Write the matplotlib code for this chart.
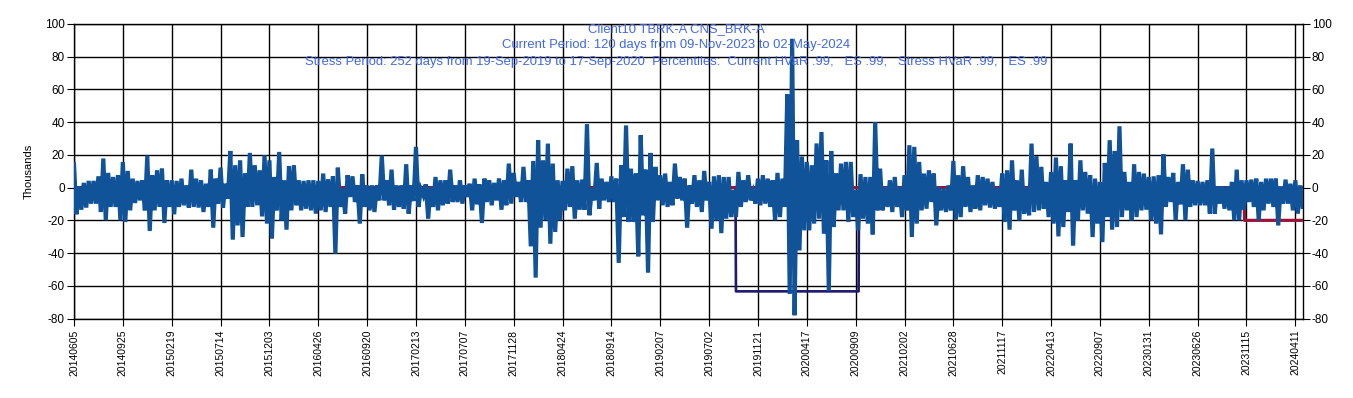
import numpy as np
import matplotlib
matplotlib.use("Agg")
import matplotlib.pyplot as plt

plt.rcParams["font.family"] = ["Liberation Sans", "DejaVu Sans"]
plt.rcParams["axes.unicode_minus"] = False

N_DAYS = 2516
TICK_LABELS = ["20140605", "20140925", "20150219", "20150714", "20151203", "20160426",
               "20160920", "20170213", "20170707", "20171128", "20180424", "20180914",
               "20190207", "20190702", "20191121", "20200417", "20200909", "20210202",
               "20210628", "20211117", "20220413", "20220907", "20230131", "20230626",
               "20231115", "20240411"]

# daily P&L in thousands, high / low of each 10-day slice (one row per tick interval)
PNL_HI = [
    14.3, 0.8, 2.9, 4.1, 4.1, 6.9, 17.8, 9.0, 6.5, 7.6,
    15.7, 10.2, 5.5, 4.1, 4.5, 19.6, 7.6, 10.6, 11.6, 4.5,
    4.5, 4.1, 5.5, 1.4, 11.0, 5.5, 4.5, 2.4, 11.0, 5.5,
    12.2, 2.4, 22.4, 13.7, 16.7, 8.6, 21.2, 13.7, 10.6, 19.8,
    16.7, 6.5, 21.8, 4.5, 13.1, 13.7, 4.5, 4.1, 4.5, 4.5,
    4.1, 8.6, 5.1, 6.9, 12.2, -0.6, 7.6, 6.9, 1.4, 8.2,
    1.4, 1.4, 1.4, 19.6, 4.5, 11.0, 1.4, 1.4, 14.3, 1.4,
    24.9, -1.0, 2.0, 0.4, 6.5, 4.5, 4.5, 11.0, 1.4, 4.5,
    1.4, 2.4, 5.5, 2.0, 5.5, 4.5, 2.9, 5.5, 4.5, 14.7,
    9.0, 3.5, 12.7, 4.5, 16.3, 29.0, 16.7, 26.9, 14.7, 4.5,
    4.1, 11.6, 13.1, 4.5, 4.9, 38.8, -0.6, 15.1, 5.5, 3.5,
    6.9, 5.5, 13.7, 38.0, 11.6, 8.6, 32.0, 11.0, 21.2, 12.7,
    7.6, 8.6, 3.5, 14.7, 6.5, 5.5, 1.4, 7.6, 4.5, 10.2,
    3.5, 6.9, 7.6, 6.5, 6.5, -1.6, 9.6, 4.5, 7.6, -2.7,
    5.5, 7.6, 5.5, 4.5, 9.0, 5.5, 57.0, 91.0, 29.0, 19.0,
    15.7, 13.7, 27.0, 34.0, 16.7, 22.4, 8.6, 14.7, 15.7, 15.7,
    -1.6, 8.2, 6.5, 6.5, 40.0, 11.6, 0.4, 4.5, 6.5, 0.4,
    7.6, 25.9, 24.9, 15.7, 8.6, 10.6, 8.6, 0.4, -0.6, 1.4,
    16.3, 7.6, 13.1, 6.5, 1.4, 7.6, 6.5, 5.5, 3.5, 0.0,
    8.6, 10.6, 16.7, 4.5, 11.0, 0.4, 26.9, 19.2, 12.7, 3.5,
    9.6, 18.4, 13.1, 4.5, 26.9, 4.5, 16.7, 9.6, 7.6, 5.5,
    3.5, 15.1, 29.0, 22.4, 37.5, 9.6, 3.5, 14.3, 9.6, 8.6,
    6.5, 6.9, 7.6, 20.4, 6.5, 9.0, 3.5, 14.3, 11.0, 4.5,
    4.1, 3.5, 4.5, 23.9, 0.8, 0.8, 0.8, 3.5, 11.0, 4.5,
    4.5, 4.9, 5.5, 3.5, 5.5, 5.5, 5.5, 0.4, 4.9, 2.4,
    4.5, 1.4,
]
PNL_LO = [
    -16.3, -13.5, -12.2, -9.8, -9.8, -14.9, -20.0, -11.8, -11.8, -20.0,
    -21.0, -13.9, -9.4, -7.8, -13.9, -26.5, -13.9, -11.8, -21.6, -11.8,
    -16.3, -11.8, -10.8, -12.2, -11.8, -12.2, -14.9, -11.8, -24.5, -9.8,
    -12.2, -6.7, -31.8, -23.1, -30.2, -11.8, -11.8, -10.8, -17.6, -22.0,
    -31.2, -13.9, -20.0, -25.7, -13.9, -10.8, -13.9, -12.9, -13.9, -15.9,
    -13.9, -14.9, -11.8, -40.4, -11.8, -15.9, -5.7, -8.8, -22.0, -11.8,
    -13.9, -14.9, -7.8, -7.8, -10.8, -13.5, -11.8, -12.9, -15.9, -8.2,
    -11.8, -4.7, -19.0, -11.8, -13.9, -10.8, -9.8, -8.8, -8.8, -9.8,
    -5.7, -13.9, -10.2, -21.6, -8.8, -10.8, -7.8, -13.5, -10.8, -9.8,
    -5.7, -8.8, -8.8, -35.9, -55.0, -24.5, -20.0, -34.3, -27.1, -20.0,
    -13.9, -11.8, -19.0, -13.5, -13.5, -16.9, -7.8, -12.9, -7.8, -8.8,
    -8.8, -46.0, -18.0, -21.0, -21.0, -42.0, -16.9, -52.0, -21.0, -7.8,
    -10.8, -11.8, -10.8, -6.7, -7.8, -24.5, -9.8, -11.8, -14.9, -7.8,
    -25.1, -20.0, -27.8, -19.0, -18.0, -18.0, -11.8, -8.8, -7.8, -9.8,
    -10.8, -9.8, -11.8, -20.0, -18.0, -11.8, -65.0, -78.0, -38.4, -26.1,
    -26.1, -22.0, -19.0, -28.2, -63.0, -24.1, -13.9, -13.9, -21.0, -18.0,
    -26.1, -19.0, -22.0, -28.6, -13.9, -13.9, -11.8, -14.9, -11.8, -18.0,
    -13.9, -30.2, -22.0, -13.9, -12.9, -8.8, -23.1, -13.9, -14.9, -13.9,
    -19.6, -18.0, -11.8, -14.9, -12.9, -13.9, -10.8, -12.2, -12.9, -11.8,
    -21.0, -25.7, -13.9, -20.0, -15.9, -16.9, -14.9, -13.9, -12.9, -18.0,
    -22.0, -29.8, -24.1, -14.9, -35.3, -20.0, -13.9, -15.9, -30.2, -22.0,
    -33.3, -18.0, -25.7, -24.1, -18.0, -13.9, -20.0, -18.0, -13.9, -13.5,
    -20.0, -22.0, -28.6, -11.8, -8.8, -20.0, -10.2, -20.0, -11.8, -10.8,
    -10.8, -10.8, -15.9, -15.9, -9.8, -12.9, -13.9, -20.0, -20.0, -13.5,
    -8.8, -11.8, -20.0, -13.9, -9.8, -11.8, -23.1, -9.8, -9.8, -13.9,
    -15.9, -11.8,
]

STRESS_START, STRESS_DAYS, STRESS_LEVEL = 1355, 252, -63.4
CURRENT_DAYS, CURRENT_LEVEL = 120, -20.0

TITLE = ["Client10 TBRK-A CNS_BRK-A",
         "Current Period: 120 days from 09-Nov-2023 to 02-May-2024",
         "Stress Period: 252 days from 19-Sep-2019 to 17-Sep-2020  Percentiles:  "
         "Current HVaR .99,   ES .99,   Stress HVaR .99,   ES .99"]

# build series
pnl_x = np.arange(0, N_DAYS, 5)
pnl = np.empty(len(pnl_x))
pnl[0::2] = PNL_HI
pnl[1::2] = PNL_LO

days = np.arange(N_DAYS)
stress = np.zeros(N_DAYS)
stress[STRESS_START:STRESS_START + STRESS_DAYS] = STRESS_LEVEL
current = np.zeros(N_DAYS)
current[-CURRENT_DAYS:] = CURRENT_LEVEL

fig = plt.figure(figsize=(13.53, 3.98), dpi=100)
ax = fig.add_axes([0.0547, 0.1997, 0.9081, 0.74])

ax.plot(days, stress, color="#1e1a6e", lw=1.9, zorder=3)
ax.plot(days, current, color="#9b1538", lw=2.3, zorder=4)
ax.plot(pnl_x, pnl, color="#115399", lw=3.0, zorder=5, solid_joinstyle="miter")

ax.set_xlim(0, N_DAYS - 1)
ax.set_ylim(-80, 100)
ax.set_yticks(np.arange(-80, 101, 20))
ax.set_xticks(np.arange(0, N_DAYS, 100))
ax.set_xticklabels(TICK_LABELS, rotation=90, fontsize=7.5)
ax.grid(True, color="black", lw=1.0, zorder=1)
ax.set_axisbelow(True)
for s in ax.spines.values():
    s.set_color("black")
    s.set_linewidth(1.0)
ax.tick_params(axis="y", right=True, labelright=True, direction="out",
               length=5, labelsize=8.5, pad=1.5)
ax.tick_params(axis="x", direction="out", length=5, pad=3)
ax.set_ylabel("Thousands", fontsize=8)
ax.yaxis.set_label_coords(-0.033, 0.5)

for line, y in zip(TITLE, (0.927, 0.886, 0.844)):
    fig.text(0.5, y, line, ha="center", va="center", fontsize=9.4, color="#4169e1")

fig.savefig("out.png", dpi=100)
